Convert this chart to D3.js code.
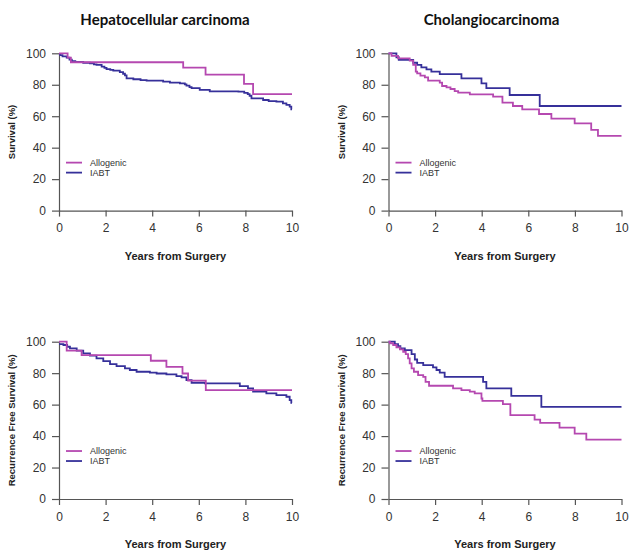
<!DOCTYPE html>
<html>
<head>
<meta charset="utf-8">
<script src="https://cdn.jsdelivr.net/npm/d3@7"></script>
<style>
  body { margin: 0; background: #fff; }
  svg { display: block; }
  svg text { font-family: 'Liberation Sans', Arial, Helvetica, sans-serif; }
  svg text.title { font-family: Lato, 'Open Sans', sans-serif; }
</style>
</head>
<body>
<div id="chart"></div>
<script>
var width = 629, height = 550;

// survival curves, [years, percent] — each value holds until the next step
var hccOsAllo = [[0,100],[0.37,97.3],[0.51,94.3],[5.33,90.9],[6.29,86.4],[7.94,80.5],[8.33,74],[10,74]];
var hccOsIabt = [[0,99.5],[0.05,98.8],[0.15,98],[0.33,97.2],[0.45,96],[0.55,95],[0.7,94.5],[1.04,94],[1.33,93.6],
    [1.5,93],[1.61,92.6],[1.83,91.5],[1.95,90.7],[2.04,90],[2.2,89.4],[2.33,89],[2.61,88],[2.75,87],[2.83,86],
    [2.9,84],[3.19,83.5],[3.5,83],[3.76,82.6],[4.47,82],[4.76,81.4],[5.19,80.9],[5.4,80.2],[5.47,79.5],[5.6,78.5],
    [5.69,77.8],[6.04,76.7],[6.47,75.8],[7.7,75.6],[7.95,74.8],[8.1,74],[8.18,73],[8.26,71.4],[8.76,70.3],[9.0,69.6],
    [9.33,69.3],[9.61,68.2],[9.76,67.2],[9.9,66.1],[9.97,64.4],[10,64.4]];

var ccaOsAllo = [[0,100],[0.13,98.3],[0.41,96.8],[0.91,95.3],[1.06,92.6],[1.17,88.3],[1.23,87.3],[1.37,85.8],
    [1.56,84.7],[1.7,82.6],[2.2,81.4],[2.3,79.2],[2.49,78.4],[2.66,77.3],[2.84,76],[2.99,75],[3.49,73.9],
    [4.49,72.5],[4.89,68.6],[5.34,66.5],[5.74,64.4],[6.46,61.4],[6.99,58.5],[7.99,55.5],[8.7,51.3],[8.99,47.5],[10,47.5]];
var ccaOsIabt = [[0,100],[0.34,97.5],[0.44,95.8],[1.06,94],[1.23,92.6],[1.41,91.1],[1.63,89.8],[1.84,88.3],
    [2.2,86.7],[3.13,84.1],[3.99,80.9],[4.2,77.8],[5.2,73.5],[6.49,66.5],[10,66.5]];

var hccRfsAllo = [[0,100],[0.33,94.3],[0.97,91.5],[3.94,87.9],[4.61,84],[5.3,79.8],[5.54,75.2],[6.3,69.2],[10,69.2]];
var hccRfsIabt = [[0,98.5],[0.19,97.9],[0.35,96.8],[0.47,95.8],[0.76,94.3],[1.04,92.6],[1.33,91.1],[1.61,89.4],
    [1.9,87.7],[2.19,85.8],[2.47,84.5],[2.83,83],[3.04,82],[3.33,80.9],[3.9,80.3],[4.19,79.8],[4.61,79.2],
    [5.04,78.1],[5.26,77.3],[5.47,75.6],[5.69,73.9],[6.26,73.5],[7.76,71.8],[8.11,70.3],[8.33,68.2],[8.9,67.1],
    [9.33,66],[9.76,65],[9.9,62.8],[9.97,61.1],[10,61.1]];

var ccaRfsAllo = [[0,100],[0.06,99],[0.2,97.9],[0.34,96.4],[0.49,95.1],[0.63,93.6],[0.74,92.1],[0.84,89.4],
    [0.91,86.2],[0.99,83],[1.09,80.9],[1.27,78.8],[1.49,77.7],[1.59,74.5],[1.74,72],[2.77,70.3],[3.13,69.2],
    [3.49,68.2],[3.7,67.1],[3.99,63.9],[4.03,62.4],[4.91,60.3],[5.23,53.3],[6.27,50.5],[6.51,48.4],[7.34,45.4],
    [7.99,41.6],[8.49,37.8],[10,37.8]];
var ccaRfsIabt = [[0,100],[0.2,100],[0.27,98.5],[0.41,97.2],[0.51,95.8],[0.7,94.7],[0.99,92.1],[1.13,88.7],
    [1.23,86.6],[1.49,85.1],[1.91,83.7],[2.06,82],[2.2,80.3],[2.41,77.7],[4.06,74.5],[4.2,70.3],[5.27,65.6],
    [6.56,58.6],[10,58.6]];

var seriesNames = ['Allogenic', 'IABT'];
var xTicks = [0, 2, 4, 6, 8, 10];
var yTicks = [0, 20, 40, 60, 80, 100];
var titles = ['Hepatocellular carcinoma', 'Cholangiocarcinoma'];

var colors = { Allogenic: '#b548b0', IABT: '#36309a' };

var panels = [
    { col: 0, row: 0, ylab: 'Survival (%)', allo: hccOsAllo, iabt: hccOsIabt },
    { col: 1, row: 0, ylab: 'Survival (%)', allo: ccaOsAllo, iabt: ccaOsIabt },
    { col: 0, row: 1, ylab: 'Recurrence Free Survival (%)', allo: hccRfsAllo, iabt: hccRfsIabt },
    { col: 1, row: 1, ylab: 'Recurrence Free Survival (%)', allo: ccaRfsAllo, iabt: ccaRfsIabt }
];

var colX = [59, 388.5], plotW = 233;
var rowY = [53.3, 341.7], plotH = 157.3;

var svg = d3.select('#chart')
    .append('svg')
    .attr('width', width)
    .attr('height', height);

// column titles
svg.selectAll('text.title')
    .data(titles).enter()
    .append('text')
    .attr('class', 'title')
    .attr('x', function (d, i) { return [165, 491.5][i]; })
    .attr('y', 25)
    .attr('text-anchor', 'middle')
    .style('font-weight', 'bold')
    .style('font-size', '15px')
    .style('fill', '#111')
    .text(function (d) { return d; });

panels.forEach(function (p) {
    var g = svg.append('g')
        .attr('transform', 'translate(' + colX[p.col] + ',' + rowY[p.row] + ')');

    var x = d3.scaleLinear().domain([0, 10]).range([0, plotW]);
    var y = d3.scaleLinear().domain([0, 100]).range([plotH, 0]);

    var xAxis = g.append('g')
        .attr('transform', 'translate(0,' + plotH + ')')
        .call(d3.axisBottom(x).tickValues(xTicks).tickSize(6).tickPadding(7).tickSizeOuter(0));
    var yAxis = g.append('g')
        .call(d3.axisLeft(y).tickValues(yTicks).tickSize(7).tickPadding(6).tickSizeOuter(0));

    [xAxis, yAxis].forEach(function (a) {
        a.attr('font-family', null).attr('font-size', null);
        a.select('.domain').attr('stroke', '#555').attr('stroke-width', 1.2);
        a.selectAll('.tick line').attr('stroke', '#555').attr('stroke-width', 1.2);
        a.selectAll('.tick text')
            .style('font-size', '12px')
            .style('fill', '#333');
    });

    // axis titles
    g.append('text')
        .attr('x', plotW / 2)
        .attr('y', plotH + 49)
        .attr('text-anchor', 'middle')
        .style('font-weight', 'bold')
        .style('font-size', '11px')
        .style('fill', '#222')
        .text('Years from Surgery');

    g.append('text')
        .attr('transform', 'translate(' + (-colX[p.col] + 14.5 + (p.col ? 330 : 0)) + ',' + (plotH / 2) + ') rotate(-90)')
        .attr('text-anchor', 'middle')
        .style('font-weight', 'bold')
        .style('font-size', '9.5px')
        .style('fill', '#222')
        .text(p.ylab);

    var line = d3.line()
        .x(function (d) { return x(d[0]); })
        .y(function (d) { return y(d[1]); })
        .curve(d3.curveStepAfter);

    // IABT first, Allogenic drawn on top
    [['IABT', p.iabt], ['Allogenic', p.allo]].forEach(function (s) {
        g.append('path')
            .datum(s[1])
            .attr('d', line)
            .attr('fill', 'none')
            .attr('stroke', colors[s[0]])
            .attr('stroke-width', 1.8);
    });

    // legend
    var leg = g.selectAll('g.leg')
        .data(seriesNames).enter()
        .append('g')
        .attr('class', 'leg')
        .attr('transform', function (d, i) { return 'translate(7,' + (y(30.5) + i * 10) + ')'; });
    leg.append('line')
        .attr('x1', 0).attr('x2', 16)
        .attr('stroke', function (d) { return colors[d]; })
        .attr('stroke-width', 1.8);
    leg.append('text')
        .attr('x', 24)
        .attr('dy', '0.35em')
        .style('font-size', '9px')
        .style('fill', '#333')
        .text(function (d) { return d; });
});
</script>
</body>
</html>
